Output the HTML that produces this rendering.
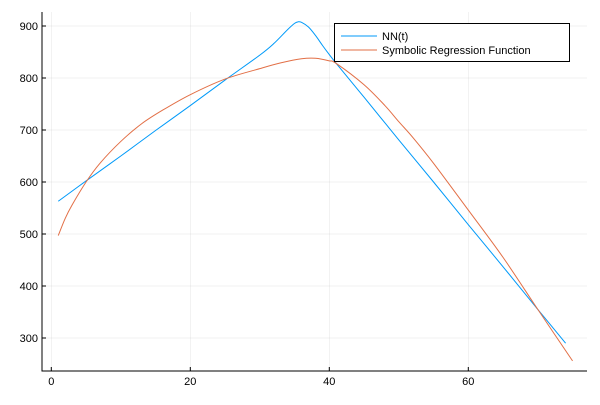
<!DOCTYPE html>
<html><head><meta charset="utf-8"><style>
body{margin:0;background:#fff;}
svg text{font-family:"Liberation Sans",sans-serif;font-size:11px;fill:#000;}
</style></head><body>
<svg id="chart" width="600" height="400" xmlns="http://www.w3.org/2000/svg"></svg>
<script>
const xTicks=[0,20,40,60];
const yTicks=[300,400,500,600,700,800,900];
const nnT=[1,5,10,15,20,25,30,32,34,35,35.5,36,37,38,39,40,41,45,50,55,60,65,70,74];
const nnV=[563,602,650,699,747,796,844,866,893,905,908,907,898,882,863,845,828,763,681,600,518,437,355,290];
const srT=[1,2,3,5,7,10,13,16,20,25,30,33,36,38,40,41,45,48,50,52,55,60,65,70,75];
const srV=[497,530,556,600,636,678,712,738,768,798,818,829,837,838,833,828,787,747,716,686,636,546,455,355,256];
const NS="http://www.w3.org/2000/svg";
const svg=document.getElementById('chart');
const X=t=>51.3+6.95*t;
const Y=v=>338-(v-300)*0.52;
function el(tag,attrs,parent){const e=document.createElementNS(NS,tag);for(const k in attrs)e.setAttribute(k,attrs[k]);(parent||svg).appendChild(e);return e;}
xTicks.forEach(t=>{
  const g=el('line',{x1:X(t),x2:X(t),y1:12,y2:371,stroke:'#000','stroke-opacity':0.1,'stroke-width':0.5});
  
  
  const tk=el('line',{x1:X(t),x2:X(t),y1:371,y2:367,stroke:'#000','stroke-width':1});
  
  
  const tx=el('text',{x:X(t),y:385,'text-anchor':'middle'});tx.textContent=t;
  
  
});
yTicks.forEach(v=>{
  const g=el('line',{x1:42,x2:587,y1:Y(v),y2:Y(v),stroke:'#000','stroke-opacity':0.1,'stroke-width':0.5});
  
  
  const tk=el('line',{x1:42,x2:46,y1:Y(v),y2:Y(v),stroke:'#000','stroke-width':1});
  
  
  const tx=el('text',{x:38,y:Y(v)+4,'text-anchor':'end'});tx.textContent=v;
  
  
});
const ax=el('path',{d:'M42 12 V371 H587',fill:'none',stroke:'#000','stroke-width':1});


function line(ts,vs,c,name){
  const P=ts.map((t,i)=>[X(t),Y(vs[i])]);
  let d='M'+P[0][0]+' '+P[0][1];
  for(let i=0;i<P.length-1;i++){
    const p0=P[Math.max(0,i-1)],p1=P[i],p2=P[i+1],p3=P[Math.min(P.length-1,i+2)];
    const c1=[p1[0]+(p2[0]-p0[0])/6,p1[1]+(p2[1]-p0[1])/6];
    const c2=[p2[0]-(p3[0]-p1[0])/6,p2[1]-(p3[1]-p1[1])/6];
    d+=' C'+c1.join(' ')+' '+c2.join(' ')+' '+p2.join(' ');
  }
  const p=el('path',{d:d,fill:'none',stroke:c,'stroke-width':1});
  
  
}
line(nnT,nnV,'#009af9','series-nn');
line(srT,srV,'#e26f46','series-symbolic-regression');
const lg=el('g',{});


el('rect',{x:334.5,y:23.5,width:235,height:38,fill:'#fff',stroke:'#000','stroke-width':1},lg);
el('line',{x1:341,x2:377,y1:36,y2:36,stroke:'#009af9','stroke-width':1},lg);
el('line',{x1:341,x2:377,y1:50,y2:50,stroke:'#e26f46','stroke-width':1},lg);
const t1=el('text',{x:382,y:40},lg);t1.textContent='NN(t)';


const t2=el('text',{x:382,y:54},lg);t2.textContent='Symbolic Regression Function';


</script>
</body></html>
